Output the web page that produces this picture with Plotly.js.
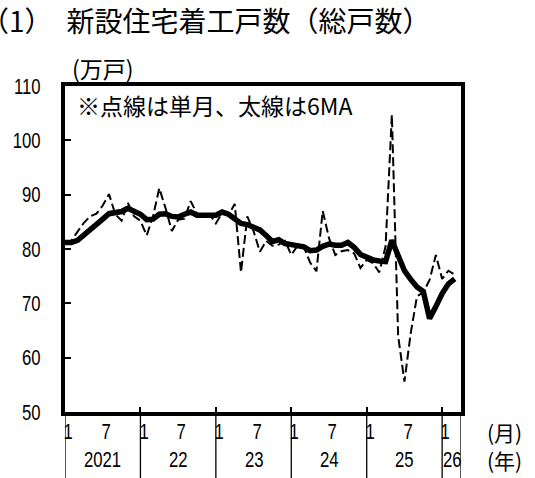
<!DOCTYPE html>
<html>
<head>
<meta charset="utf-8">
<script src="https://cdn.plot.ly/plotly-3.0.1.min.js"></script>
<style>
html,body{margin:0;padding:0;background:#fff;}
#chart{width:535px;height:478px;}
</style>
</head>
<body>
<div id="chart"></div>
<script>
// ---- data (万戸, 季節調整済年率換算) ----
const periods = [
 '2020-11','2020-12',
 '2021-01','2021-02','2021-03','2021-04','2021-05','2021-06','2021-07','2021-08','2021-09','2021-10','2021-11','2021-12',
 '2022-01','2022-02','2022-03','2022-04','2022-05','2022-06','2022-07','2022-08','2022-09','2022-10','2022-11','2022-12',
 '2023-01','2023-02','2023-03','2023-04','2023-05','2023-06','2023-07','2023-08','2023-09','2023-10','2023-11','2023-12',
 '2024-01','2024-02','2024-03','2024-04','2024-05','2024-06','2024-07','2024-08','2024-09','2024-10','2024-11','2024-12',
 '2025-01','2025-02','2025-03','2025-04','2025-05','2025-06','2025-07','2025-08','2025-09','2025-10','2025-11','2025-12',
 '2026-01'
];
const singleMonth = [
 81.0, 81.5,
 83.2, 84.8, 86.0, 86.5, 88.0, 90.1, 86.4, 85.2, 88.5, 86.0, 85.2, 82.5,
 86.0, 91.2, 87.5, 83.3, 85.4, 85.6, 88.8, 86.5, 86.0, 86.4, 84.7, 86.6,
 86.2, 88.3, 75.7, 86.0, 83.3, 79.5, 81.5, 80.6, 80.8, 81.5, 78.9, 80.6,
 80.4, 77.5, 75.9, 87.0, 82.0, 78.9, 79.6, 79.8, 79.2, 76.5, 78.0, 77.4,
 75.7, 80.5, 104.7, 64.0, 55.6, 64.5, 71.3, 72.0, 74.3, 78.9, 74.5, 76.0,
 75.3
];
const ma6 = [
 81.2, 81.2,
 81.6, 82.5, 83.4, 84.4, 85.5, 86.5, 86.8, 86.9, 87.5, 86.9, 86.4, 85.4,
 85.5, 86.4, 86.5, 86.0, 85.9, 86.4, 86.8, 86.2, 86.3, 86.2, 86.2, 86.8,
 86.4, 85.5, 84.7, 84.5, 83.9, 83.5, 82.5, 81.4, 81.7, 81.0, 80.8, 80.6,
 80.4, 79.7, 79.8, 80.5, 80.9, 80.7, 80.7, 81.2, 80.3, 79.0, 78.4, 78.0,
 77.8, 77.7, 81.6, 78.6, 76.0, 74.4, 73.0, 72.2, 67.2, 69.4, 71.8, 73.6,
 74.5
];
const yearLabels = ['2021', '22', '23', '24', '25', '26'];
const monthTickLabels = ['1', '7'];
const yTickValues = [50, 60, 70, 80, 90, 100, 110];

// ---- build ----
const DIGITS = "'Liberation Sans', Arial, sans-serif";
const CJK = "'Noto Sans CJK JP', 'Noto Sans', sans-serif";
const idx = periods.map((_, i) => i);
const nSlots = periods.length;           // axis spans one slot per period
const yearStarts = yearLabels.map((_, j) => j * 12);
const yearEnds = yearStarts.slice(1).concat([nSlots]);
const separators = yearStarts.concat([nSlots]);

const traces = [
  {x: idx, y: singleMonth, type: 'scatter', mode: 'lines', name: '単月',
   line: {color: '#000', width: 2, dash: '9px,4px'}, hoverinfo: 'skip'},
  {x: idx, y: ma6, type: 'scatter', mode: 'lines', name: '6MA',
   line: {color: '#000', width: 5.5}, hoverinfo: 'skip'}
];

const annotations = [];
const narrowIdx = [];
const shapes = [];
const rowMonthY = -0.061, rowYearY = -0.147;

function addNarrow(a) { narrowIdx.push(annotations.length); annotations.push(a); }

yearStarts.forEach((s, j) => {
  const e = yearEnds[j];
  [0, 6].forEach((off, m) => {
    if (s + off + 0.5 < e) {
      addNarrow({x: s + off + 0.5, xref: 'x', y: rowMonthY, yref: 'paper',
        text: monthTickLabels[m], showarrow: false, xanchor: 'center', yanchor: 'middle',
        font: {family: DIGITS, size: 22, color: '#000'}});
    }
  });
  addNarrow({x: (s + e) / 2, xref: 'x', y: rowYearY, yref: 'paper',
    text: yearLabels[j], showarrow: false, xanchor: 'center', yanchor: 'middle',
    font: {family: DIGITS, size: 22, color: '#000'}});
});
separators.forEach(s => {
  shapes.push({type: 'line', xref: 'x', yref: 'paper', x0: s, x1: s, y0: 0, y1: -0.21,
    line: {color: '#000', width: 1.3}});
});

annotations.push({x: 1.109, xref: 'paper', y: rowMonthY, yref: 'paper', text: '(月)',
  showarrow: false, xanchor: 'center', yanchor: 'middle', font: {family: CJK, size: 21, color: '#000'}});
annotations.push({x: 1.109, xref: 'paper', y: rowYearY, yref: 'paper', text: '(年)',
  showarrow: false, xanchor: 'center', yanchor: 'middle', font: {family: CJK, size: 21, color: '#000'}});
annotations.push({x: 0.095, xref: 'paper', y: 1.055, yref: 'paper', text: '(万戸)',
  showarrow: false, xanchor: 'center', yanchor: 'middle', font: {family: CJK, size: 23, color: '#000'}});
annotations.push({x: 0.024, xref: 'paper', y: 0.942, yref: 'paper', text: '※点線は単月、太線は6MA',
  showarrow: false, xanchor: 'left', yanchor: 'middle', font: {family: CJK, size: 23, color: '#000'}});
annotations.push({x: -0.218, xref: 'paper', y: 1.202, yref: 'paper', text: '（1）\u2002新設住宅着工戸数（総戸数）',
  showarrow: false, xanchor: 'left', yanchor: 'middle', font: {family: CJK, size: 28, color: '#000'}});

const layout = {
  width: 535, height: 478,
  margin: {l: 65, r: 74, t: 86, b: 66, pad: 0},
  paper_bgcolor: '#fff', plot_bgcolor: '#fff',
  showlegend: false,
  xaxis: {range: [0, nSlots], tickvals: yearStarts, ticks: 'inside', ticklen: 5, tickwidth: 2,
    tickcolor: '#000', showticklabels: false, showgrid: false, zeroline: false,
    showline: true, mirror: true, linecolor: '#000', linewidth: 4, fixedrange: true},
  yaxis: {range: [50, 110], tickvals: yTickValues, ticktext: yTickValues.map(String),
    ticks: 'inside', ticklen: 6, tickwidth: 2, tickcolor: '#000',
    ticklabelstandoff: 16,
    tickfont: {family: DIGITS, size: 22, color: '#000'},
    showgrid: false, zeroline: false, showline: true, mirror: true,
    linecolor: '#000', linewidth: 4, fixedrange: true},
  annotations: annotations,
  shapes: shapes
};

function condense(el, f) {
  const w = el.getComputedTextLength();
  if (w > 0) {
    el.setAttribute('textLength', (w * f).toFixed(2));
    el.setAttribute('lengthAdjust', 'spacingAndGlyphs');
  }
}

Plotly.newPlot('chart', traces, layout, {displayModeBar: false, staticPlot: true}).then(gd => {
  gd.querySelectorAll('.ytick text').forEach(el => condense(el, 0.76));
  narrowIdx.forEach(i => {
    const el = gd.querySelector('.annotation[data-index="' + i + '"] text.annotation-text');
    if (el) condense(el, 0.76);
  });
});
</script>
</body>
</html>
